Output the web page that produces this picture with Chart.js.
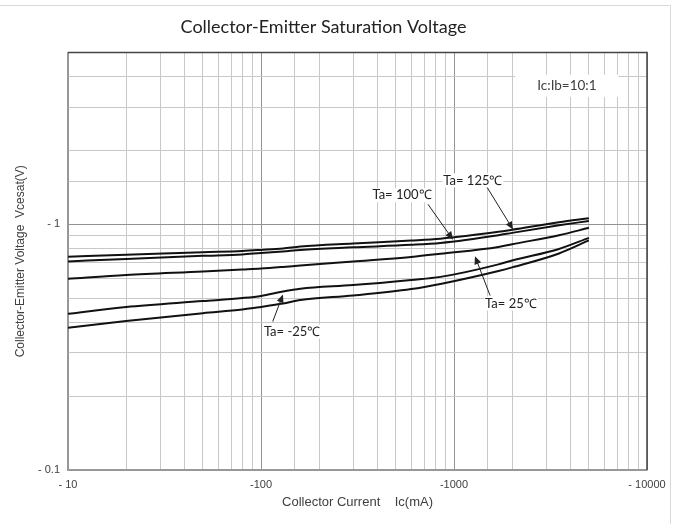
<!DOCTYPE html>
<html>
<head>
<meta charset="utf-8">
<script src="https://cdn.jsdelivr.net/npm/chart.js@4.4.1/dist/chart.umd.min.js"></script>
<style>
  body { margin: 0; background: #fff; }
  canvas { display: block; }
</style>
</head>
<body>
<canvas id="vceChart" width="679" height="524"></canvas>
<script>
// Datos (Ic en mA, Vce(sat) en V)
const corrienteIc = [10, 20, 50, 80, 100, 130, 160, 300, 600, 850, 1700, 2000, 3500, 5000];
const vce125 = [0.738, 0.751, 0.770, 0.779, 0.787, 0.798, 0.813, 0.836, 0.859, 0.874, 0.932, 0.950, 1.019, 1.058];
const vce100 = [0.706, 0.723, 0.744, 0.754, 0.765, 0.776, 0.787, 0.806, 0.825, 0.840, 0.903, 0.923, 0.991, 1.032];
const vce25 = [0.600, 0.622, 0.643, 0.655, 0.661, 0.671, 0.680, 0.706, 0.737, 0.759, 0.809, 0.830, 0.902, 0.968];
const vceM25 = [0.432, 0.461, 0.487, 0.501, 0.511, 0.533, 0.547, 0.566, 0.594, 0.611, 0.687, 0.713, 0.794, 0.881];
const vceLow = [0.379, 0.404, 0.435, 0.450, 0.461, 0.476, 0.492, 0.513, 0.545, 0.572, 0.646, 0.668, 0.761, 0.860];

const ticksX = [10, 100, 1000, 10000];
const textoTicksX = ['- 10', '-100', '-1000', '- 10000'];
const ticksY = [0.1, 1];
const textoTicksY = ['- 0.1', '- 1'];

// anotaciones en unidades de datos
const notas = [
    { texto: 'Ta= 125℃', pos: [1253, 1.51], desde: [1483, 1.416], hasta: [2023, 0.952] },
    { texto: 'Ta= 100℃', pos: [538, 1.313], desde: [733, 1.207], hasta: [988, 0.866] },
    { texto: 'Ta= 25℃', pos: [1972, 0.476], desde: [1538, 0.513], hasta: [1284, 0.742] },
    { texto: 'Ta= -25℃', pos: [145, 0.366], desde: [115, 0.402], hasta: [130, 0.518] }
];
const notaRelacion = { texto: 'Ic:Ib=10:1', pos: [3846, 3.66] };

function buscarTexto(valores, textos, v) {
    for (let i = 0; i < valores.length; i++) {
        if (Math.abs(v - valores[i]) < valores[i] * 1e-6) return textos[i];
    }
    return '';
}

function esDecada(v) {
    const l = Math.log10(v);
    return Math.abs(l - Math.round(l)) < 1e-6;
}

const serie = (data) => ({
    data: data,
    borderColor: '#111',
    borderWidth: 2,
    pointRadius: 0,
    fill: false,
    cubicInterpolationMode: 'monotone'
});

const marcoPlugin = {
    id: 'marco',
    beforeDraw(chart) {
        const ctx = chart.ctx;
        ctx.save();
        ctx.fillStyle = '#fff';
        ctx.fillRect(0, 0, chart.width, chart.height);
        ctx.strokeStyle = '#d9d9d9';
        ctx.lineWidth = 1;
        ctx.beginPath();
        ctx.moveTo(0, 5.5);
        ctx.lineTo(670.5, 5.5);
        ctx.lineTo(670.5, chart.height);
        ctx.stroke();
        ctx.restore();
    },
    afterDatasetsDraw(chart) {
        const ctx = chart.ctx;
        const a = chart.chartArea;
        const sx = chart.scales.x, sy = chart.scales.y;
        ctx.save();
        // borde superior y derecho
        ctx.strokeStyle = '#444';
        ctx.lineWidth = 1.5;
        ctx.beginPath();
        ctx.moveTo(a.left, a.top);
        ctx.lineTo(a.right, a.top);
        ctx.lineTo(a.right, a.bottom);
        ctx.stroke();

        // caja Ic:Ib
        ctx.font = '13.5px Lato';
        ctx.textAlign = 'center';
        ctx.textBaseline = 'middle';
        const rx = sx.getPixelForValue(notaRelacion.pos[0]);
        const ry = sy.getPixelForValue(notaRelacion.pos[1]);
        const w = ctx.measureText(notaRelacion.texto).width + 44;
        ctx.fillStyle = '#fff';
        ctx.fillRect(rx - w / 2, ry - 11, w, 22);
        ctx.fillStyle = '#404040';
        ctx.fillText(notaRelacion.texto, rx, ry);

        // flechas y etiquetas de temperatura
        notas.forEach(n => {
            const x0 = sx.getPixelForValue(n.desde[0]), y0 = sy.getPixelForValue(n.desde[1]);
            const x1 = sx.getPixelForValue(n.hasta[0]), y1 = sy.getPixelForValue(n.hasta[1]);
            const ang = Math.atan2(y1 - y0, x1 - x0);
            ctx.strokeStyle = '#222';
            ctx.fillStyle = '#222';
            ctx.lineWidth = 1;
            ctx.beginPath();
            ctx.moveTo(x0, y0);
            ctx.lineTo(x1 - 6 * Math.cos(ang), y1 - 6 * Math.sin(ang));
            ctx.stroke();
            ctx.beginPath();
            ctx.moveTo(x1, y1);
            ctx.lineTo(x1 - 8 * Math.cos(ang) + 3.5 * Math.sin(ang), y1 - 8 * Math.sin(ang) - 3.5 * Math.cos(ang));
            ctx.lineTo(x1 - 8 * Math.cos(ang) - 3.5 * Math.sin(ang), y1 - 8 * Math.sin(ang) + 3.5 * Math.cos(ang));
            ctx.closePath();
            ctx.fill();

            const tx = sx.getPixelForValue(n.pos[0]), ty = sy.getPixelForValue(n.pos[1]);
            ctx.font = '13px Lato';
            const tw = ctx.measureText(n.texto).width;
            ctx.fillStyle = '#fff';
            ctx.fillRect(tx - tw / 2 - 1, ty - 7, tw + 2, 14);
            ctx.fillStyle = '#222';
            ctx.fillText(n.texto, tx, ty);
        });
        ctx.restore();
    }
};

const vceChart = new Chart(document.getElementById('vceChart'), {
    type: 'line',
    data: {
        labels: corrienteIc,
        datasets: [serie(vce125), serie(vce100), serie(vce25), serie(vceM25), serie(vceLow)]
    },
    options: {
        responsive: false,
        animation: false,
        layout: { padding: { left: 0, right: 32, top: 0, bottom: 0 } },
        plugins: {
            legend: { display: false },
            tooltip: { enabled: false },
            title: {
                display: true,
                text: 'Collector-Emitter Saturation Voltage',
                color: '#222',
                font: { family: 'Lato', size: 18, weight: 'normal' },
                padding: { top: 16, bottom: 15 }
            }
        },
        scales: {
            x: {
                type: 'logarithmic',
                min: 10,
                max: 10000,
                afterFit: (s) => { s.height = 54; },
                border: { color: '#999', width: 1.5 },
                grid: {
                    drawTicks: false,
                    color: (c) => esDecada(c.tick.value) ? '#939393' : '#c8c8c8'
                },
                ticks: {
                    autoSkip: false,
                    maxRotation: 0,
                    padding: 8,
                    color: '#404040',
                    font: { family: 'Liberation Sans', size: 11 },
                    callback: (v) => buscarTexto(ticksX, textoTicksX, v)
                },
                title: {
                    display: true,
                    text: 'Collector Current    Ic(mA)',
                    color: '#404040',
                    font: { family: 'Liberation Sans', size: 13 },
                    padding: { top: 0, bottom: 14 }
                }
            },
            y: {
                type: 'logarithmic',
                min: 0.1,
                max: 5,
                afterFit: (s) => { s.width = 68; },
                border: { color: '#999', width: 1.5 },
                grid: {
                    drawTicks: false,
                    color: (c) => esDecada(c.tick.value) ? '#939393' : '#c8c8c8'
                },
                ticks: {
                    autoSkip: false,
                    padding: 8,
                    color: '#404040',
                    font: { family: 'Liberation Sans', size: 11 },
                    callback: (v) => buscarTexto(ticksY, textoTicksY, v)
                },
                title: {
                    display: true,
                    text: 'Collector-Emitter Voltage  Vcesat(V)',
                    color: '#404040',
                    font: { family: 'Liberation Sans', size: 12 },
                    padding: { top: 13, bottom: 0 }
                }
            }
        }
    },
    plugins: [marcoPlugin]
});
</script>
</body>
</html>
